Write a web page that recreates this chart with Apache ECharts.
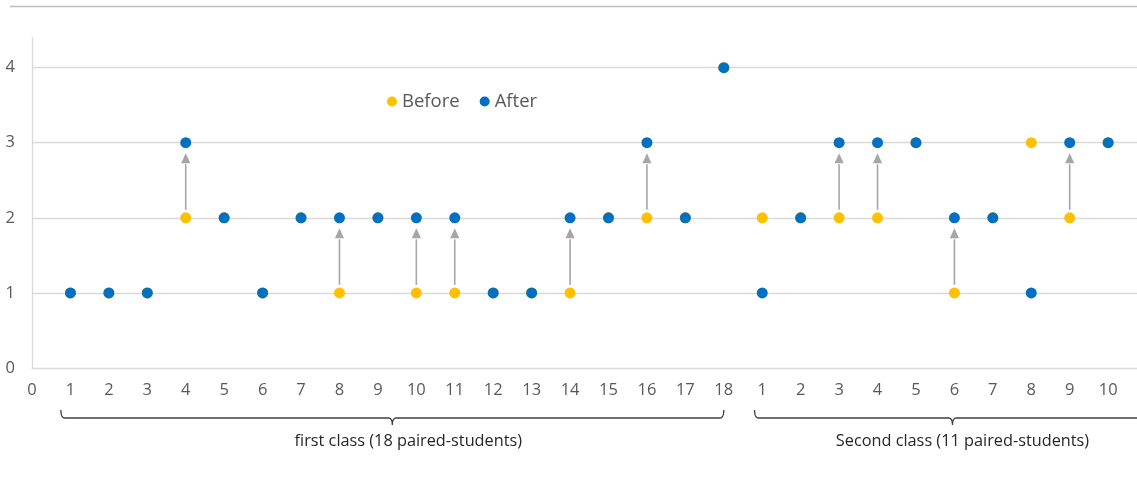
<!DOCTYPE html>
<html>
<head>
<meta charset="utf-8">
<script src="https://cdn.jsdelivr.net/npm/echarts@6/dist/echarts.min.js"></script>
<style>
html,body{margin:0;padding:0;background:#fff;}
#chart{width:1137px;height:487px;}
</style>
</head>
<body>
<div id="chart"></div>
<script>
// Tick labels for the x axis (positions 0..29)
const xLabels = ['0','1','2','3','4','5','6','7','8','9','10','11','12','13','14','15','16','17','18',
                 '1','2','3','4','5','6','7','8','9','10','11'];
const yTicks = [0, 1, 2, 3, 4];
const gridValues = [1, 2, 3, 4];
// Scores per paired student (first class: positions 1-18, second class: positions 19-28)
const positions = [1,2,3,4,5,6,7,8,9,10,11,12,13,14,15,16,17,18,19,20,21,22,23,24,25,26,27,28];
const before = [1,1,1,2,2,1,2,1,2,1,1,1,1,1,2,2,2,4, 2,2,2,2,3,1,2,3,2,3];
const after  = [1,1,1,3,2,1,2,2,2,2,2,1,1,2,2,3,2,4, 1,2,3,3,3,2,2,1,3,3];
// Groups shown by braces below the axis (extent in x-axis units)
const groupLabels = ['first class (18 paired-students)', 'Second class (11 paired-students)'];
const groupFrom = [0.75, 18.8];
const groupTo = [18, 29.1];

const FONT = '"Open Sans", "Noto Sans", sans-serif';
const chart = echarts.init(document.getElementById('chart'), null, {renderer: 'canvas'});

const beforeData = positions.map((p, i) => [p, before[i]]);
const afterData = positions.map((p, i) => [p, after[i]]);
const arrowData = positions
  .map((p, i) => [p, before[i], after[i]])
  .filter(d => d[2] > d[1]);

const option = {
  backgroundColor: '#ffffff',
  animation: false,
  textStyle: {fontFamily: FONT},
  grid: {left: 32, top: 37.6, right: -48, bottom: 119, outerBoundsMode: 'none', containLabel: false},
  legend: {
    data: ['Before', 'After'],
    left: 382, top: 87,
    icon: 'circle', itemWidth: 10, itemHeight: 10, itemGap: 20,
    textStyle: {fontSize: 18.5, color: '#595959', fontFamily: FONT}
  },
  xAxis: {
    type: 'value', min: 0, max: 30, interval: 1,
    axisLine: {show: true, lineStyle: {color: '#d9d9d9', width: 1.3}},
    axisTick: {show: false},
    splitLine: {show: false},
    axisLabel: {
      margin: 14, fontSize: 16.5, color: '#595959', fontFamily: FONT,
      formatter: v => (xLabels[v] !== undefined ? xLabels[v] : '')
    }
  },
  yAxis: {
    type: 'value', min: 0, max: 4.4, interval: 1,
    axisLine: {show: true, lineStyle: {color: '#d9d9d9', width: 1.3}},
    axisTick: {show: false},
    splitLine: {show: false},
    axisLabel: {
      margin: 17, fontSize: 16.5, color: '#595959', fontFamily: FONT,
      formatter: v => (yTicks.indexOf(v) >= 0 ? String(v) : '')
    }
  },
  series: [
    {
      name: 'gridlines', type: 'scatter', data: [], z: 0, zlevel: 0, silent: true,
      markLine: {
        silent: true, symbol: 'none', label: {show: false}, z: 0,
        lineStyle: {color: '#d9d9d9', width: 1.3, type: 'solid'},
        data: gridValues.map(v => ({yAxis: v}))
      }
    },
    {
      name: 'arrows', type: 'custom', z: 1, silent: true,
      data: arrowData,
      renderItem: function (params, api) {
        const x = api.value(0);
        const p1 = api.coord([x, api.value(1)]);
        const p2 = api.coord([x, api.value(2)]);
        const tipY = p2[1] + 10.5;
        const baseY = p2[1] + 20.5;
        const lineStart = p1[1] - 8;
        return {
          type: 'group',
          children: [
            {type: 'line', shape: {x1: p1[0], y1: lineStart, x2: p2[0], y2: baseY + 1},
             style: {stroke: '#a6a6a6', lineWidth: 1.6}},
            {type: 'polygon', shape: {points: [[p2[0], tipY], [p2[0] - 4.6, baseY], [p2[0] + 4.6, baseY]]},
             style: {fill: '#a6a6a6'}}
          ]
        };
      }
    },
    {
      name: 'Before', type: 'scatter', data: beforeData, symbol: 'circle', symbolSize: 11, z: 2,
      itemStyle: {color: '#ffc000', opacity: 1}
    },
    {
      name: 'After', type: 'scatter', data: afterData, symbol: 'circle', symbolSize: 11, z: 3,
      itemStyle: {color: '#0070c0', opacity: 1}
    }
  ]
};
chart.setOption(option);

// quadratic curve sampled into points
function quad(p0, c, p1, n) {
  const pts = [];
  for (let k = 0; k <= n; k++) {
    const t = k / n;
    pts.push([(1 - t) * (1 - t) * p0[0] + 2 * (1 - t) * t * c[0] + t * t * p1[0],
              (1 - t) * (1 - t) * p0[1] + 2 * (1 - t) * t * c[1] + t * t * p1[1]]);
  }
  return pts;
}

// Braces and group captions below the axis, aligned to the x axis scale
function drawBraces() {
  const y0 = chart.convertToPixel({yAxisIndex: 0}, 0);
  const yLine = y0 + 50;
  const elements = [
    {type: 'line', shape: {x1: 10, y1: 6.5, x2: 1137, y2: 6.5}, style: {stroke: '#bfbfbf', lineWidth: 1.6}, silent: true}
  ];
  groupLabels.forEach((label, i) => {
    const x1 = chart.convertToPixel({xAxisIndex: 0}, groupFrom[i]);
    const x2 = chart.convertToPixel({xAxisIndex: 0}, groupTo[i]);
    const xc = (x1 + x2) / 2;
    const r = 4;
    let pts = [];
    pts = pts.concat(quad([x1, yLine - 8], [x1, yLine], [x1 + r, yLine], 6));
    pts = pts.concat(quad([xc - r, yLine], [xc, yLine], [xc, yLine + 7], 6));
    pts = pts.concat(quad([xc, yLine + 7], [xc, yLine], [xc + r, yLine], 6));
    pts = pts.concat(quad([x2 - r, yLine], [x2, yLine], [x2, yLine - 8], 6));
    elements.push({
      type: 'polyline', silent: true,
      shape: {points: pts},
      style: {fill: null, stroke: '#404040', lineWidth: 1.3}
    });
    elements.push({
      type: 'text', silent: true,
      x: xc + (i === 0 ? 16 : 10), y: yLine + 23,
      style: {text: label, fontSize: 16.3, fontFamily: FONT, fill: '#262626', align: 'center', verticalAlign: 'middle'}
    });
  });
  chart.setOption({graphic: {elements: elements}});
}
drawBraces();
</script>
</body>
</html>
